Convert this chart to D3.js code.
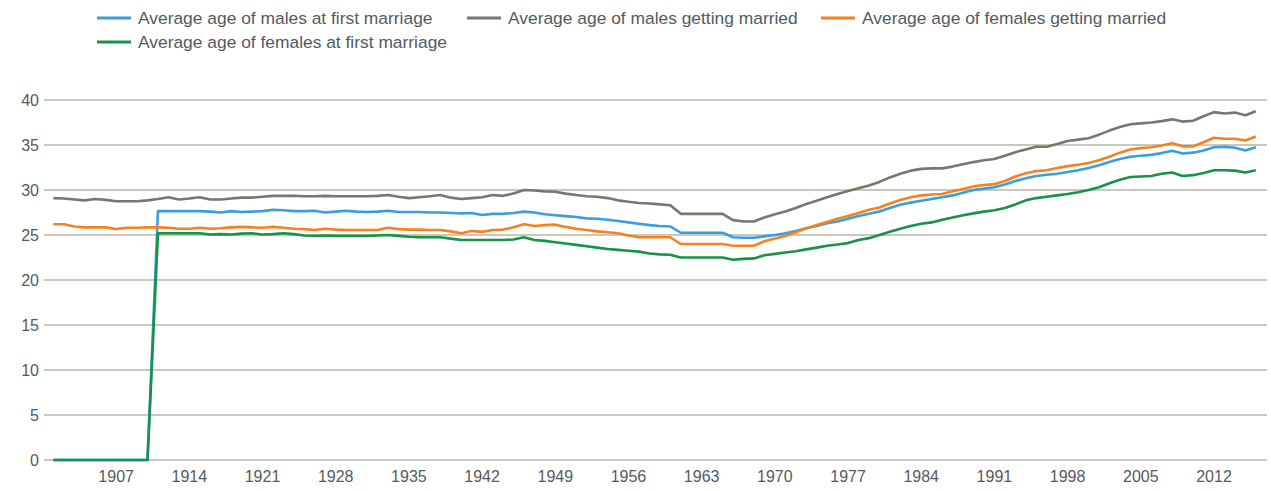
<!DOCTYPE html>
<html>
<head>
<meta charset="utf-8">
<script src="https://cdn.jsdelivr.net/npm/d3@7"></script>
<style>
  body { margin: 0; background: #fff; }
  text { font-family: "Liberation Sans", Arial, sans-serif; }
</style>
</head>
<body>
<svg id="chart" width="1271" height="491"></svg>
<script>
// Years 1901-2016
var years = d3.range(1901, 2017);

// Average age of males at first marriage (no data before 1911 -> 0)
var malesFirst = [0, 0, 0, 0, 0, 0, 0, 0, 0, 0,
  27.65, 27.65, 27.65, 27.65, 27.65, 27.6, 27.5, 27.65, 27.55, 27.6,
  27.65, 27.8, 27.75, 27.65, 27.65, 27.7, 27.5, 27.6, 27.7, 27.6,
  27.55, 27.6, 27.7, 27.55, 27.55, 27.55, 27.5, 27.5, 27.45, 27.4,
  27.45, 27.22, 27.35, 27.35, 27.45, 27.6, 27.5, 27.3, 27.2, 27.1,
  27.0, 26.85, 26.8, 26.7, 26.55, 26.4, 26.25, 26.1, 26.0, 25.95,
  25.25, 25.25, 25.25, 25.25, 25.25, 24.75, 24.7, 24.7, 24.85, 25.0,
  25.2, 25.45, 25.75, 26.0, 26.3, 26.5, 26.8, 27.1, 27.35, 27.6,
  28.0, 28.35, 28.6, 28.8, 29.0, 29.2, 29.4, 29.7, 30.0, 30.15,
  30.3, 30.6, 31.0, 31.3, 31.55, 31.7, 31.8, 32.0, 32.2, 32.45,
  32.75, 33.1, 33.45, 33.7, 33.8, 33.9, 34.1, 34.35, 34.05, 34.15,
  34.4, 34.75, 34.8, 34.7, 34.4, 34.75];

// Average age of males getting married
var malesAll = [29.1, 29.05, 28.95, 28.85, 29.0, 28.9, 28.75, 28.75, 28.75, 28.85,
  29.0, 29.2, 28.95, 29.05, 29.2, 28.95, 28.95, 29.05, 29.15, 29.15,
  29.25, 29.35, 29.35, 29.35, 29.3, 29.3, 29.35, 29.3, 29.3, 29.3,
  29.3, 29.35, 29.45, 29.25, 29.1, 29.2, 29.3, 29.45, 29.15, 29.0,
  29.1, 29.2, 29.45, 29.35, 29.6, 30.0, 29.95, 29.85, 29.8, 29.6,
  29.45, 29.3, 29.25, 29.1, 28.85, 28.7, 28.55, 28.5, 28.4, 28.3,
  27.35, 27.35, 27.35, 27.35, 27.35, 26.65, 26.5, 26.5, 26.95, 27.3,
  27.6, 28.0, 28.45, 28.8, 29.2, 29.55, 29.9, 30.2, 30.5, 30.9,
  31.4, 31.8, 32.15, 32.35, 32.4, 32.4, 32.6, 32.85, 33.1, 33.3,
  33.45, 33.8, 34.2, 34.5, 34.8, 34.8, 35.1, 35.45, 35.6, 35.75,
  36.15, 36.6, 37.0, 37.3, 37.4, 37.5, 37.65, 37.85, 37.6, 37.7,
  38.2, 38.65, 38.5, 38.6, 38.3, 38.75];

// Average age of females getting married
var femalesAll = [26.2, 26.2, 25.95, 25.85, 25.85, 25.85, 25.65, 25.8, 25.8, 25.85,
  25.85, 25.8, 25.7, 25.7, 25.8, 25.7, 25.75, 25.85, 25.9, 25.85,
  25.8, 25.9, 25.8, 25.7, 25.65, 25.55, 25.7, 25.6, 25.55, 25.55,
  25.55, 25.55, 25.8, 25.65, 25.6, 25.6, 25.55, 25.55, 25.4, 25.2,
  25.45, 25.35, 25.55, 25.6, 25.85, 26.2, 26.0, 26.1, 26.15, 25.9,
  25.7, 25.55, 25.4, 25.3, 25.2, 24.95, 24.75, 24.75, 24.75, 24.75,
  24.0, 24.0, 24.0, 24.0, 24.0, 23.8, 23.8, 23.8, 24.3, 24.6,
  24.9, 25.3, 25.75, 26.1, 26.45, 26.8, 27.1, 27.45, 27.8, 28.05,
  28.5, 28.9, 29.2, 29.4, 29.5, 29.55, 29.85, 30.1, 30.4, 30.55,
  30.65, 31.0, 31.5, 31.85, 32.1, 32.2, 32.45, 32.65, 32.8, 33.0,
  33.3, 33.7, 34.15, 34.5, 34.65, 34.75, 34.95, 35.2, 34.85, 34.85,
  35.3, 35.8, 35.7, 35.7, 35.5, 35.95];

// Average age of females at first marriage (no data before 1911 -> 0)
var femalesFirst = [0, 0, 0, 0, 0, 0, 0, 0, 0, 0,
  25.2, 25.2, 25.2, 25.2, 25.2, 25.05, 25.1, 25.05, 25.15, 25.2,
  25.05, 25.1, 25.2, 25.1, 24.95, 24.9, 24.95, 24.9, 24.9, 24.9,
  24.9, 24.95, 25.0, 24.9, 24.8, 24.75, 24.75, 24.75, 24.6, 24.45,
  24.45, 24.45, 24.45, 24.45, 24.5, 24.75, 24.45, 24.35, 24.2, 24.05,
  23.9, 23.75, 23.6, 23.45, 23.35, 23.25, 23.15, 22.95, 22.85, 22.8,
  22.5, 22.5, 22.5, 22.5, 22.5, 22.25, 22.35, 22.4, 22.75, 22.9,
  23.05, 23.2, 23.4, 23.6, 23.8, 23.95, 24.1, 24.45, 24.65, 25.0,
  25.35, 25.7, 26.0, 26.25, 26.4, 26.7, 26.95, 27.2, 27.4, 27.6,
  27.75, 28.0, 28.4, 28.85, 29.1, 29.25, 29.4, 29.55, 29.75, 30.0,
  30.3, 30.75, 31.15, 31.45, 31.5, 31.55, 31.8, 31.95, 31.55, 31.65,
  31.9, 32.2, 32.2, 32.15, 31.95, 32.2];

var yTicks = [0, 5, 10, 15, 20, 25, 30, 35, 40];
var xTicks = d3.range(1907, 2013, 7);

var series = [
  { name: "Average age of males at first marriage", values: malesFirst, color: "#3a9de0" },
  { name: "Average age of males getting married", values: malesAll, color: "#77776b" },
  { name: "Average age of females getting married", values: femalesAll, color: "#f5821f" },
  { name: "Average age of females at first marriage", values: femalesFirst, color: "#17924a" }
];

var svg = d3.select("#chart");

var x = d3.scaleLinear().domain([1900.1, 2017.07]).range([44, 1267]);
var y = d3.scaleLinear().domain([0, 40]).range([460, 100]);

// gridlines
svg.append("g")
  .selectAll("line")
  .data(yTicks)
  .enter()
  .append("line")
  .attr("x1", 44)
  .attr("x2", 1267)
  .attr("y1", function (d) { return y(d); })
  .attr("y2", function (d) { return y(d); })
  .attr("stroke", "#c8c8bc")
  .attr("stroke-width", 2);

// y labels
svg.append("g")
  .selectAll("text")
  .data(yTicks)
  .enter()
  .append("text")
  .attr("x", 39)
  .attr("y", function (d) { return y(d); })
  .attr("dy", "0.35em")
  .attr("text-anchor", "end")
  .attr("font-size", 16)
  .attr("fill", "#555a60")
  .text(function (d) { return d; });

// x labels
svg.append("g")
  .selectAll("text")
  .data(xTicks)
  .enter()
  .append("text")
  .attr("x", function (d) { return x(d); })
  .attr("y", 482)
  .attr("text-anchor", "middle")
  .attr("font-size", 16)
  .attr("fill", "#555a60")
  .text(function (d) { return d; });

// lines
var line = d3.line()
  .x(function (d, i) { return x(years[i]); })
  .y(function (d) { return y(d); });

svg.append("g")
  .selectAll("path")
  .data(series)
  .enter()
  .append("path")
  .attr("d", function (d) { return line(d.values); })
  .attr("fill", "none")
  .attr("stroke", function (d) { return d.color; })
  .attr("stroke-width", 2.6)
  .attr("stroke-linejoin", "round");

// legend
var legendPos = [
  { x: 97, y: 18 },
  { x: 467, y: 18 },
  { x: 821, y: 18 },
  { x: 97, y: 42 }
];

var legend = svg.append("g")
  .selectAll("g")
  .data(series)
  .enter()
  .append("g")
  .attr("transform", function (d, i) { return "translate(" + legendPos[i].x + "," + legendPos[i].y + ")"; });

legend.append("line")
  .attr("x1", 0)
  .attr("x2", 34)
  .attr("y1", 0)
  .attr("y2", 0)
  .attr("stroke", function (d) { return d.color; })
  .attr("stroke-width", 3);

legend.append("text")
  .attr("x", 41)
  .attr("y", 0)
  .attr("dy", "0.35em")
  .attr("font-size", 17.4)
  .attr("fill", "#555a60")
  .text(function (d) { return d.name; });
</script>
</body>
</html>
